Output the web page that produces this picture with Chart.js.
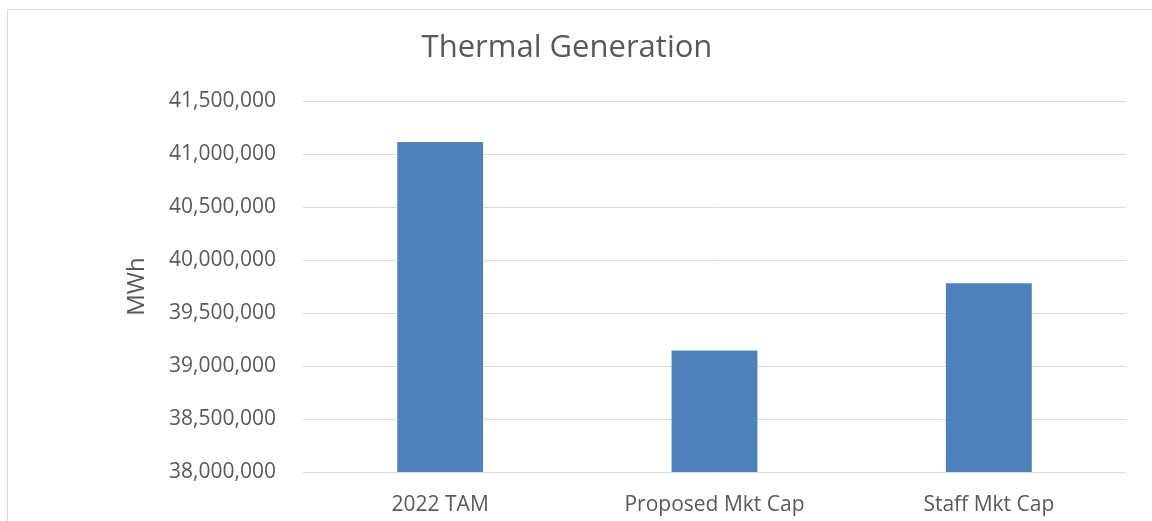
<!DOCTYPE html>
<html>
<head>
<meta charset="utf-8">
<script src="https://cdn.jsdelivr.net/npm/chart.js@4"></script>
<style>
    html, body { margin: 0; padding: 0; background: #fff; overflow: hidden; }
    #frame {
        position: absolute; left: 7px; top: 9px;
        width: 1145px; height: 512px;
        border-left: 1px solid #d9d9d9; border-top: 1px solid #d9d9d9;
    }
    #chartThermal { display: block; }
</style>
</head>
<body>
<div id="frame"><canvas id="chartThermal" width="1144" height="511"></canvas></div>
<script>
const categories = ["2022 TAM", "Proposed Mkt Cap", "Staff Mkt Cap"];
const thermalMWh = [41116000, 39146000, 39781000];
const yMin = 38000000;
const yMax = 41500000;
const yStep = 500000;

const textColor = "#595959";
const gridColor = "#d9d9d9";
const fontFamily = "'Open Sans', 'Liberation Sans', sans-serif";

const chartThermal = new Chart(document.getElementById("chartThermal"), {
    type: "bar",
    data: {
        labels: categories,
        datasets: [{
            label: "Thermal Generation",
            data: thermalMWh,
            backgroundColor: "#4f81bd",
            borderWidth: 0,
            barPercentage: 0.313,
            categoryPercentage: 1,
        }]
    },
    options: {
        responsive: false,
        animation: false,
        layout: { padding: { left: 0, right: 26, top: 0, bottom: 0 } },
        plugins: {
            legend: { display: false },
            tooltip: { enabled: false },
            title: {
                display: true,
                text: "Thermal Generation",
                color: textColor,
                font: { family: fontFamily, size: 31, weight: "normal" },
                padding: { top: 20, bottom: 34 }
            }
        },
        scales: {
            x: {
                grid: { display: false, drawTicks: false },
                border: { display: false },
                ticks: {
                    color: textColor,
                    font: { family: fontFamily, size: 21 },
                    padding: 20
                },
                afterFit: (scale) => { scale.height = 49; }
            },
            y: {
                min: yMin,
                max: yMax,
                grid: { color: gridColor, lineWidth: 1, drawTicks: false },
                border: { display: false },
                ticks: {
                    stepSize: yStep,
                    color: textColor,
                    font: { family: fontFamily, size: 21 },
                    padding: 27,
                    callback: (v) => Number(v).toLocaleString("en-US")
                },
                title: {
                    display: true,
                    text: "MWh",
                    color: textColor,
                    font: { family: fontFamily, size: 24 },
                    padding: { top: 115, bottom: 0 }
                },
                afterFit: (scale) => { scale.width = 295; }
            }
        }
    }
});
</script>
</body>
</html>
